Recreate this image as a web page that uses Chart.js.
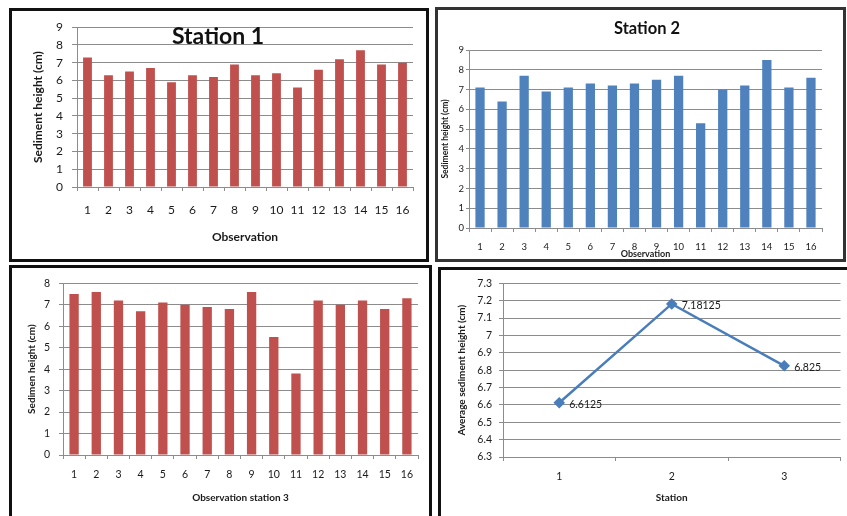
<!DOCTYPE html>
<html>
<head>
<meta charset="utf-8">
<script src="https://cdn.jsdelivr.net/npm/chart.js@4.4.1/dist/chart.umd.min.js"></script>
<style>
  body { margin: 0; width: 847px; height: 516px; overflow: hidden; background: #fff; position: relative; font-family: Lato, sans-serif }
  .panel { position: absolute; box-sizing: border-box; border: 3px solid #111 }
  canvas { position: absolute }
  .title { position: absolute; font-weight: bold; transform: translate(-50%, -50%); white-space: nowrap; color: #111 }
</style>
</head>
<body>
<div class="panel" style="left:9px;top:8px;width:420px;height:254px"></div>
<div class="panel" style="left:435px;top:7px;width:411px;height:255px;border-color:#333"></div>
<div class="panel" style="left:9px;top:265px;width:423px;height:262px"></div>
<div class="panel" style="left:438px;top:267px;width:415px;height:262px"></div>

<canvas id="station1" width="414" height="248" style="left:12px;top:11px"></canvas>
<canvas id="station2" width="404" height="249" style="left:438px;top:10px"></canvas>
<canvas id="station3" width="417" height="248" style="left:12px;top:268px"></canvas>
<canvas id="average" width="406" height="246" style="left:441px;top:270px"></canvas>

<div class="title" style="left:218px;top:35px;font-size:23px">Station 1</div>
<div class="title" style="left:647px;top:28px;font-size:16.5px">Station 2</div>

<script>
const observations = ['1', '2', '3', '4', '5', '6', '7', '8', '9', '10', '11', '12', '13', '14', '15', '16']
const station1Heights = [7.3, 6.3, 6.5, 6.7, 5.9, 6.3, 6.2, 6.9, 6.3, 6.4, 5.6, 6.6, 7.2, 7.7, 6.9, 7.0]
const station2Heights = [7.1, 6.4, 7.7, 6.9, 7.1, 7.3, 7.2, 7.3, 7.5, 7.7, 5.3, 7.0, 7.2, 8.5, 7.1, 7.6]
const station3Heights = [7.5, 7.6, 7.2, 6.7, 7.1, 7.0, 6.9, 6.8, 7.6, 5.5, 3.8, 7.2, 7.0, 7.2, 6.8, 7.3]
const stations = ['1', '2', '3']
const averageHeights = [6.6125, 7.18125, 6.825]

const RED = '#C0504D'
const BLUE = '#4F81BD'
const GRID = '#8c8c8c'
const TEXT = '#1a1a1a'

Chart.defaults.font.family = 'Lato'
Chart.defaults.color = TEXT
Chart.defaults.animation = false

// force the axis boxes to a fixed size so the plot area lands where the picture has it
const fixBox = size => scale => {
  if (scale.isHorizontal()) scale.height = size
  else scale.width = size
}

const axisTitle = (text, size, padding) => ({
  display: true,
  text,
  color: TEXT,
  font: { size, weight: 'bold' },
  padding
})

const xAxis = ({ title, titleSize, titlePad, tickSize, tickPad, height }) => ({
  offset: true,
  grid: { offset: true, drawOnChartArea: false, color: GRID, tickLength: 4 },
  border: { color: GRID },
  ticks: { font: { size: tickSize }, padding: tickPad, color: TEXT },
  title: axisTitle(title, titleSize, { top: 0, bottom: titlePad }),
  afterFit: fixBox(height)
})

const yAxis = ({ min, max, step, title, titleSize, titlePad, tickSize, tickPad, tickLength, width }) => ({
  min,
  max,
  ticks: {
    stepSize: step,
    font: { size: tickSize },
    padding: tickPad,
    color: TEXT,
    callback: value => String(Math.round(value * 10) / 10)
  },
  grid: { color: GRID, tickLength },
  border: { color: GRID },
  title: axisTitle(title, titleSize, { top: titlePad, bottom: 0 }),
  afterFit: fixBox(width)
})

const createBar = (id, data, color, { padding, x, y }) =>
  new Chart(document.getElementById(id), {
    type: 'bar',
    data: {
      labels: observations,
      datasets: [{ data, backgroundColor: color, barPercentage: 0.42, categoryPercentage: 1 }]
    },
    options: {
      responsive: false,
      layout: { padding: { left: 0, bottom: 0, ...padding } },
      plugins: { legend: { display: false }, tooltip: { enabled: false } },
      scales: { x: xAxis(x), y: yAxis(y) }
    }
  })

const pointLabels = {
  id: 'pointLabels',
  afterDatasetsDraw: chart => {
    const { ctx } = chart
    const values = chart.data.datasets[0].data
    ctx.save()
    ctx.font = '10.5px Lato'
    ctx.fillStyle = TEXT
    ctx.textBaseline = 'middle'
    chart.getDatasetMeta(0).data.forEach((point, i) =>
      ctx.fillText(String(values[i]), point.x + 10, point.y + 1.5))
    ctx.restore()
  }
}

createBar('station1', station1Heights, RED, {
  padding: { top: 12, right: 13 },
  x: { title: 'Observation', titleSize: 12, titlePad: 15, tickSize: 12, tickPad: 12, height: 72 },
  y: { min: 0, max: 9, step: 1, title: 'Sediment height (cm)', titleSize: 12, titlePad: 19, tickSize: 12, tickPad: 9, tickLength: 5, width: 65 }
})

createBar('station2', station2Heights, BLUE, {
  padding: { top: 40, right: 20 },
  x: { title: 'Observation', titleSize: 9, titlePad: 0, tickSize: 9.5, tickPad: 9, height: 31 },
  y: { min: 0, max: 9, step: 1, title: 'Sediment height (cm)', titleSize: 8.5, titlePad: 2, tickSize: 9.5, tickPad: 2, tickLength: 3, width: 31 }
})

createBar('station3', station3Heights, RED, {
  padding: { top: 10, right: 11 },
  x: { title: 'Observation station 3', titleSize: 10, titlePad: 12, tickSize: 10.5, tickPad: 9, height: 61 },
  y: { min: 0, max: 8, step: 1, title: 'Sedimen height (cm)', titleSize: 10, titlePad: 14, tickSize: 10.5, tickPad: 9, tickLength: 4, width: 51 }
})

new Chart(document.getElementById('average'), {
  type: 'line',
  data: {
    labels: stations,
    datasets: [{
      data: averageHeights,
      borderColor: '#4A7EBB',
      borderWidth: 2.5,
      pointStyle: 'rectRot',
      pointRadius: 4,
      pointBackgroundColor: '#4A7EBB',
      pointBorderColor: '#4A7EBB',
      tension: 0
    }]
  },
  options: {
    responsive: false,
    layout: { padding: { left: 0, bottom: 0, top: 10, right: 3 } },
    plugins: { legend: { display: false }, tooltip: { enabled: false } },
    scales: {
      x: xAxis({ title: 'Station', titleSize: 10, titlePad: 12, tickSize: 10.5, tickPad: 9, height: 59 }),
      y: yAxis({ min: 6.3, max: 7.3, step: 0.1, title: 'Average sediment height (cm)', titleSize: 10, titlePad: 14.7, tickSize: 10.5, tickPad: 7, tickLength: 4, width: 62 })
    }
  },
  plugins: [pointLabels]
})
</script>
</body>
</html>
